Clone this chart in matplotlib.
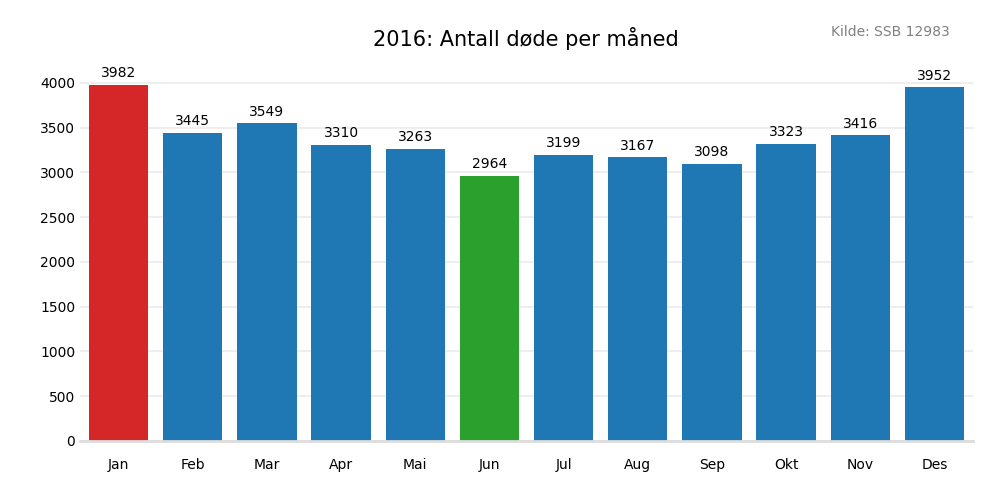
import matplotlib.pyplot as plt

months = ["Jan", "Feb", "Mar", "Apr", "Mai", "Jun", "Jul", "Aug", "Sep", "Okt", "Nov", "Des"]
deaths = [3982, 3445, 3549, 3310, 3263, 2964, 3199, 3167, 3098, 3323, 3416, 3952]

blue = "#1f77b4"
colors = [blue] * len(months)
colors[deaths.index(max(deaths))] = "#d62728"
colors[deaths.index(min(deaths))] = "#2ca02c"

fig = plt.figure(figsize=(10, 5), dpi=100)
ax = fig.add_axes([0.08, 0.118, 0.893, 0.752])

x = range(len(months))
bars = ax.bar(x, deaths, width=0.8, color=colors, zorder=3)
for b, v in zip(bars, deaths):
    ax.text(b.get_x() + b.get_width() / 2, v + 50, str(v),
            ha="center", va="bottom", fontsize=10)

ax.set_xticks(list(x))
ax.set_xticklabels(months)
ax.set_xlim(-0.52, len(months) - 0.48)
ax.set_ylim(0, 4200)
ax.set_yticks(range(0, 4001, 500))
ax.tick_params(length=0, labelsize=10)
ax.tick_params(axis="x", pad=12)
ax.grid(axis="y", color="#ebebeb", linewidth=1.2, zorder=0)
for s in ["top", "right", "left"]:
    ax.spines[s].set_visible(False)
ax.spines["bottom"].set_color("#dddddd")
ax.spines["bottom"].set_linewidth(2)
ax.spines["bottom"].set_zorder(4)

fig.text(0.526, 0.922, "2016: Antall døde per måned", ha="center", va="center", fontsize=15)
fig.text(0.95, 0.935, "Kilde: SSB 12983", ha="right", va="center", fontsize=10, color="#808080")

fig.savefig("out.png")
